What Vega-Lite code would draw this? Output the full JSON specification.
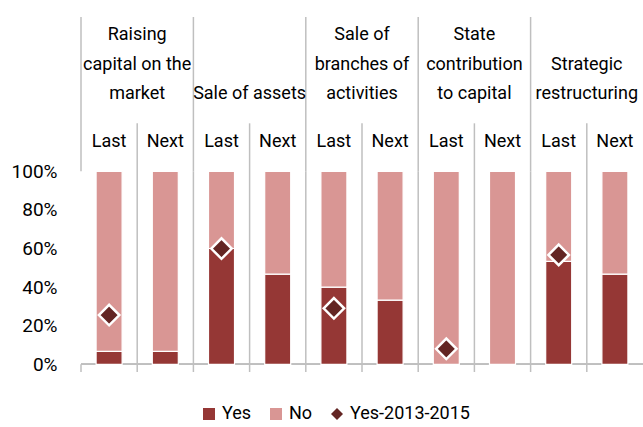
{
  "$schema": "https://vega.github.io/schema/vega-lite/v6.json",
  "autosize": {"type": "none"},
  "width": 562,
  "height": 355,
  "padding": {"left": 81, "top": 17, "right": 0, "bottom": 55},
  "background": "white",
  "config": {
    "view": {"stroke": null},
    "font": "Roboto, sans-serif",
    "text": {"font": "Roboto", "fontSize": 18, "color": "#000000"},
    "legend": {"orient": "none", "legendX": 119, "legendY": 388, "direction": "horizontal",
               "title": null, "labelFontSize": 18, "labelColor": "#000000", "symbolSize": 144,
               "labelOffset": 4, "columnPadding": 15, "symbolStrokeWidth": 0, "labelFont": "Roboto", "padding": 0}
  },
  "datasets": {
    "bars": [
      {"group": "Raising capital on the market", "period": "Last", "series": "Yes", "value": 0.067},
      {"group": "Raising capital on the market", "period": "Last", "series": "No", "value": 0.933},
      {"group": "Raising capital on the market", "period": "Next", "series": "Yes", "value": 0.067},
      {"group": "Raising capital on the market", "period": "Next", "series": "No", "value": 0.933},
      {"group": "Sale of assets", "period": "Last", "series": "Yes", "value": 0.6},
      {"group": "Sale of assets", "period": "Last", "series": "No", "value": 0.4},
      {"group": "Sale of assets", "period": "Next", "series": "Yes", "value": 0.467},
      {"group": "Sale of assets", "period": "Next", "series": "No", "value": 0.533},
      {"group": "Sale of branches of activities", "period": "Last", "series": "Yes", "value": 0.4},
      {"group": "Sale of branches of activities", "period": "Last", "series": "No", "value": 0.6},
      {"group": "Sale of branches of activities", "period": "Next", "series": "Yes", "value": 0.333},
      {"group": "Sale of branches of activities", "period": "Next", "series": "No", "value": 0.667},
      {"group": "State contribution to capital", "period": "Last", "series": "Yes", "value": 0},
      {"group": "State contribution to capital", "period": "Last", "series": "No", "value": 1},
      {"group": "State contribution to capital", "period": "Next", "series": "Yes", "value": 0},
      {"group": "State contribution to capital", "period": "Next", "series": "No", "value": 1},
      {"group": "Strategic restructuring", "period": "Last", "series": "Yes", "value": 0.533},
      {"group": "Strategic restructuring", "period": "Last", "series": "No", "value": 0.467},
      {"group": "Strategic restructuring", "period": "Next", "series": "Yes", "value": 0.467},
      {"group": "Strategic restructuring", "period": "Next", "series": "No", "value": 0.533}
    ],
    "marks": [
      {"group": "Raising capital on the market", "period": "Last", "series": "Yes-2013-2015", "value": 0.255},
      {"group": "Sale of assets", "period": "Last", "series": "Yes-2013-2015", "value": 0.6},
      {"group": "Sale of branches of activities", "period": "Last", "series": "Yes-2013-2015", "value": 0.29},
      {"group": "State contribution to capital", "period": "Last", "series": "Yes-2013-2015", "value": 0.08},
      {"group": "Strategic restructuring", "period": "Last", "series": "Yes-2013-2015", "value": 0.567}
    ],
    "groups": [
      {"group": "Raising capital on the market", "top": "Raising", "mid": "capital on the", "bottom": "market"},
      {"group": "Sale of assets", "top": "", "mid": "", "bottom": "Sale of assets"},
      {"group": "Sale of branches of activities", "top": "Sale of", "mid": "branches of", "bottom": "activities"},
      {"group": "State contribution to capital", "top": "State", "mid": "contribution", "bottom": "to capital"},
      {"group": "Strategic restructuring", "top": "", "mid": "Strategic", "bottom": "restructuring"}
    ]
  },
  "layer": [
    {
      "data": {"name": "groups"},
      "mark": {"type": "rule", "color": "#BFBFBF", "strokeWidth": 1.5},
      "encoding": {
        "x": {"field": "group", "type": "nominal", "bandPosition": 0, "axis": null,
              "scale": {"paddingInner": 0, "paddingOuter": 0}, "sort": null},
        "y": {"datum": 1.0, "type": "quantitative"},
        "y2": {"datum": 1.8}
      }
    },
    {
      "data": {"name": "groups"},
      "mark": {"type": "rule", "color": "#BFBFBF", "strokeWidth": 1.5},
      "encoding": {
        "x": {"field": "group", "type": "nominal", "bandPosition": 0, "axis": null, "sort": null},
        "y": {"datum": -0.04, "type": "quantitative"},
        "y2": {"datum": 0}
      }
    },
    {
      "data": {"name": "groups"},
      "transform": [{"filter": "datum.group !== 'Raising capital on the market'"}],
      "mark": {"type": "rule", "color": "#BFBFBF", "strokeWidth": 1.5},
      "encoding": {
        "x": {"field": "group", "type": "nominal", "bandPosition": 0, "axis": null, "sort": null},
        "y": {"datum": 0, "type": "quantitative"},
        "y2": {"datum": 1.0}
      }
    },
    {
      "data": {"name": "groups"},
      "mark": {"type": "rule", "color": "#BFBFBF", "strokeWidth": 1.5},
      "encoding": {
        "x": {"field": "group", "type": "nominal", "bandPosition": 0.5, "axis": null, "sort": null},
        "y": {"datum": -0.04, "type": "quantitative"},
        "y2": {"datum": 1.249}
      }
    },
    {
      "data": {"name": "groups"},
      "mark": {"type": "rule", "color": "#BFBFBF", "strokeWidth": 1.5},
      "encoding": {
        "y": {"datum": 0, "type": "quantitative"}
      }
    },
    {
      "data": {"name": "bars"},
      "mark": {"type": "bar", "stroke": "white", "strokeWidth": 1.2},
      "encoding": {
        "x": {"field": "group", "type": "nominal", "axis": null, "sort": null},
        "xOffset": {"field": "period", "type": "nominal",
                    "scale": {"domain": ["Last", "Next"], "paddingInner": 0.537, "paddingOuter": 0.2685}},
        "y": {"field": "value", "type": "quantitative", "stack": "zero",
              "scale": {"domain": [-0.04, 1.8], "nice": false, "zero": false},
              "axis": {"values": [0, 0.2, 0.4, 0.6, 0.8, 1], "format": ".0%", "domain": false, "ticks": false,
                       "grid": false, "title": null, "labelFontSize": 19, "labelPadding": 24,
                       "labelColor": "#000000", "labelFont": "Roboto"}},
        "color": {"field": "series", "type": "nominal",
                  "scale": {"domain": ["Yes", "No", "Yes-2013-2015"], "range": ["#953735", "#D99694", "#632523"]}},
        "order": {"field": "series", "sort": "descending"}
      }
    },
    {
      "data": {"name": "marks"},
      "mark": {"type": "point", "filled": true, "size": 420, "stroke": "white", "strokeWidth": 2.5, "opacity": 1},
      "encoding": {
        "x": {"field": "group", "type": "nominal", "axis": null, "sort": null},
        "xOffset": {"field": "period", "type": "nominal"},
        "y": {"field": "value", "type": "quantitative"},
        "color": {"field": "series", "type": "nominal"},
        "shape": {"field": "series", "type": "nominal",
                  "scale": {"domain": ["Yes", "No", "Yes-2013-2015"], "range": ["square", "square", "diamond"]}}
      }
    },
    {
      "data": {"name": "bars"},
      "transform": [{"filter": "datum.series === 'Yes'"}],
      "mark": {"type": "text", "baseline": "alphabetic", "align": "center"},
      "encoding": {
        "x": {"field": "group", "type": "nominal", "axis": null, "sort": null},
        "xOffset": {"field": "period", "type": "nominal"},
        "y": {"datum": 1.126, "type": "quantitative"},
        "text": {"field": "period"}
      }
    },
    {
      "data": {"name": "groups"},
      "mark": {"type": "text", "baseline": "alphabetic", "align": "center"},
      "encoding": {
        "x": {"field": "group", "type": "nominal", "axis": null, "sort": null},
        "y": {"datum": 1.373, "type": "quantitative"},
        "text": {"field": "bottom"}
      }
    },
    {
      "data": {"name": "groups"},
      "mark": {"type": "text", "baseline": "alphabetic", "align": "center"},
      "encoding": {
        "x": {"field": "group", "type": "nominal", "axis": null, "sort": null},
        "y": {"datum": 1.526, "type": "quantitative"},
        "text": {"field": "mid"}
      }
    },
    {
      "data": {"name": "groups"},
      "mark": {"type": "text", "baseline": "alphabetic", "align": "center"},
      "encoding": {
        "x": {"field": "group", "type": "nominal", "axis": null, "sort": null},
        "y": {"datum": 1.679, "type": "quantitative"},
        "text": {"field": "top"}
      }
    }
  ]
}
